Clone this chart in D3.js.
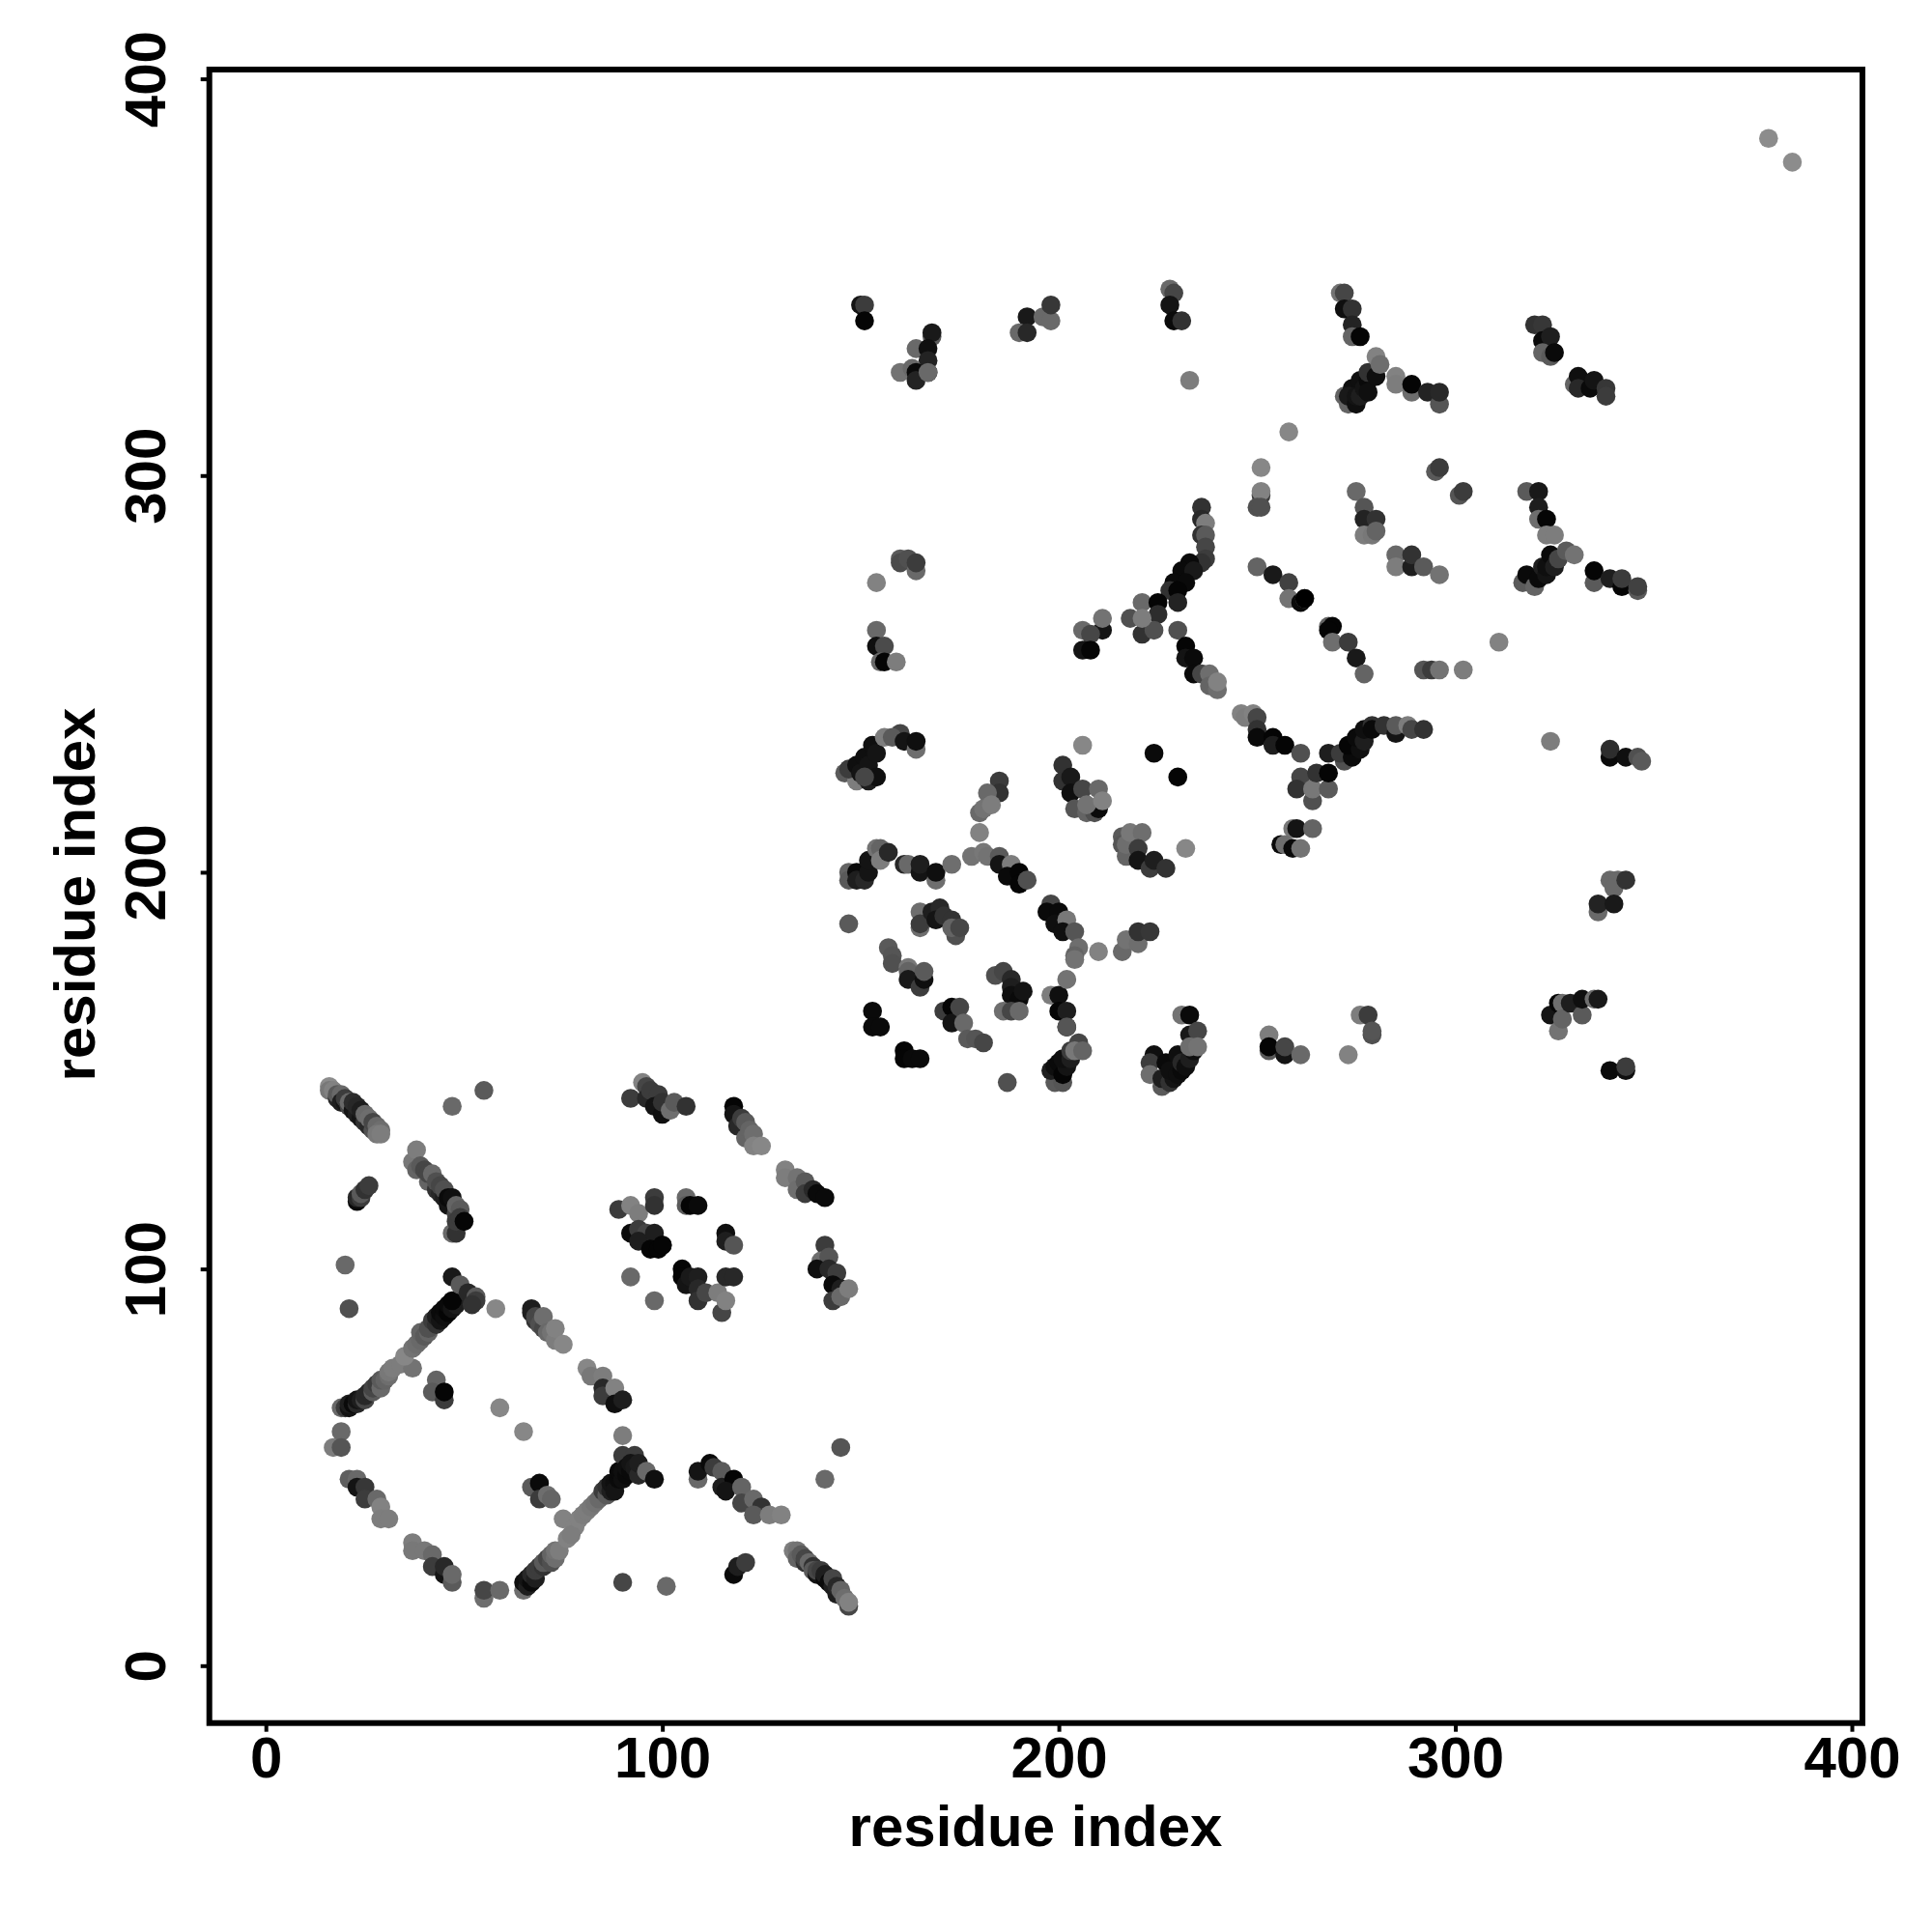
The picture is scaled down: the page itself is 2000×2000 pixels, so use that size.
<!DOCTYPE html>
<html><head><meta charset="utf-8"><style>html,body{margin:0;background:#fff}svg{display:block}</style>
<script src="https://cdn.jsdelivr.net/npm/d3@7/dist/d3.min.js"></script></head><body><div id="c"></div>
<script>
// Each entry: [residue i, residue j, shade level]
const xTicks=[0,100,200,300,400], yTicks=[0,100,200,300,400];
const axisTitle="residue index";
const blockUpperLeft=[
[16,146,140],[16,145,120],[17,145,130],[18,143,40],[18,144,90],[19,144,105],[19,142,30],[20,142,20],[20,143,60],[21,141,70],[21,142,105],[22,140,20],[22,142,45],[23,139,30],[23,141,40],[24,138,20],[24,140,30],[25,137,50],[25,139,105],[26,136,40],[26,138,110],[27,135,80],[27,137,70],[28,136,105],[29,135,110],[28,134,120],[29,134,125],
[37,127,120],[38,130,125],[38,125,100],[39,126,90],[40,125,70],[41,122,100],[41,124,70],[42,124,105],[43,120,50],[43,122,80],[44,119,40],[44,121,70],[45,118,30],[45,120,80],[46,116,20],[46,118,10],[47,118,15],[48,114,70],[48,116,100],[49,115,90],[47,109,105],[48,109,50],[48,112,60],[49,113,60],[50,112,5],
[23,117,10],[23,118,40],[24,118,60],[24,119,90],[25,120,50],[26,121,60],
[47,141,105],[55,145,90],[20,101,105],[21,90,80]];
const blockLowerLeft=[
[19,65,105],[20,65,60],[21,65,20],[21,66,30],[22,66,10],[23,66,40],[23,67,20],[24,67,30],[25,67,70],[25,68,40],[26,69,40],[27,69,90],[27,70,70],[28,71,60],[29,70,105],[29,72,90],[30,72,100],[31,73,110],[31,74,120],[32,75,125],[34,76,125],[37,75,115],[35,78,135],[37,80,115],[38,81,110],[39,82,105],[39,84,100],[40,83,90],[41,84,100],[41,85,80],[42,87,60],[43,86,50],[43,88,30],[44,87,20],[44,89,10],[45,88,15],[45,90,10],[46,89,5],[46,91,10],[47,90,20],[48,91,30],[47,92,5],[47,98,25],[49,96,90],[51,94,40],[53,93,90],[53,92,60],[52,91,50],
[58,90,135],
[67,89,30],[67,90,30],[68,87,50],[68,88,70],[69,86,80],[70,85,70],[70,88,110],[71,84,105],[72,84,115],[73,82,125],[73,85,130],[75,81,135],
[81,75,135],[82,73,120],[85,73,125],[85,70,40],[85,68,60],[88,70,130],[88,66,15],[90,67,30],
[43,72,100],[42,69,90],[45,67,60],[45,69,5],
[59,65,135],[65,59,135],[90,58,125],
[17,55,125],[19,59,105],[19,55,85],
[21,47,95],[23,47,105],[23,45,20],[25,45,55],[25,42,60],[28,42,105],[29,40,130],[29,37,125],[31,37,125],
[37,31,125],[37,29,120],[40,29,120],[42,28,105],[42,25,60],[45,23,20],[45,25,40],[47,21,90],[47,23,105],
[55,17,110],[55,19,70],[59,19,105]];
const blockLowerRight=[
[65,19,110],[65,21,15],[66,20,30],[66,22,20],[67,21,10],[67,23,40],[68,22,30],[68,24,60],[69,25,60],[70,25,50],[70,26,90],[71,27,70],[72,26,80],[72,28,100],[73,27,110],[73,29,115],[74,29,125],[76,32,130],[75,37,130],[78,35,130],[77,33,125],[79,37,130],[80,38,125],[81,39,125],[82,40,120],[83,41,115],[84,42,105],[85,44,60],[86,43,90],[86,45,50],[87,44,30],[87,46,20],[88,46,15],[88,44,20],[89,47,10],[89,49,10],[90,53,60],[93,53,60],[90,47,15],[90,49,15],[91,48,10],[91,50,15],[92,49,10],[92,51,20],[93,50,25],[94,48,40],[94,51,30],[96,49,105],[98,47,15],
[67,45,90],[69,46,10],[69,42,60],[71,43,110],[72,42,100],
[109,47,105],[109,49,20],[112,51,10],[113,50,60],[115,49,90],[115,45,30],[118,47,5],[116,44,20],[120,45,100],[120,41,70],[123,42,105],[125,40,50],[123,38,90],[127,38,125],[130,38,130],
[118,23,10],[119,25,30],[121,26,60],[90,21,70],[101,20,105],[145,55,85],[141,47,105],
[133,29,125],[134,29,115],[134,27,100],[135,28,90],[136,26,50],[136,27,70],[137,26,105],[138,25,50],[138,24,90],[139,23,20],[139,24,70],[140,24,60],[141,22,10],[141,23,30],[142,21,10],[143,20,30],[143,22,70],[144,18,30],[144,20,40],[145,19,100],[146,17,110],[147,15,70],[147,16,130]];
const blockUpperRight=[
[92,143,60],[95,147,130],[96,146,70],[96,143,40],[97,145,60],[99,144,60],[98,141,20],[100,139,15],[100,142,50],[102,140,110],[103,142,90],[106,141,50],
[118,141,5],[118,139,20],[119,136,40],[120,138,60],[121,137,90],[121,133,100],[122,135,100],[123,134,110],[123,131,130],[125,131,135],
[131,125,130],[131,123,125],[134,123,115],[134,120,110],[136,122,90],[136,119,60],[138,120,40],[139,119,10],[141,118,10],
[89,115,60],[92,116,130],[94,114,125],[98,118,60],[98,116,50],
[92,109,10],[94,110,60],[96,109,70],[94,107,30],[98,109,30],[97,105,5],[100,106,5],[99,105,5],[100,106,5],
[106,118,105],[106,116,90],[107,116,5],[109,116,10],
[116,109,15],[116,107,30],[118,106,85],
[92,98,105],[98,92,105],
[105,100,5],[105,98,5],[106,96,20],[107,98,25],[109,98,30],[109,95,40],[109,92,50],[111,94,70],[114,94,125],[115,89,70],[116,92,130],[116,98,40],[118,98,40],
[141,106,60],[140,102,110],[142,103,85],[139,100,15],[142,100,40],[144,99,60],[143,96,10],[145,95,30],[143,92,60],[145,93,105],[147,95,125]];
const midLeftCluster=[
[146,225,90],[149,223,125],[147,226,60],[149,227,15],[150,225,20],[151,229,15],[153,232,15],[152,227,20],[154,230,20],[152,223,30],[154,224,15],[151,224,70],[156,234,125],[160,235,70],[158,234,90],[161,233,20],[164,231,110],[164,233,15],
[185,223,60],[185,220,50],[182,220,105],[180,215,105],[181,216,115],[183,217,125],[180,210,130],
[201,227,50],[201,223,50],[203,224,25],[203,220,15],[204,216,85],[206,221,70],[210,221,105],[207,215,100],[209,215,80],[210,216,10],[207,217,115],[211,218,130],[206,232,135],
[224,230,10],[230,224,5],[232,206,135],
[216,209,90],[216,207,85],[217,204,100],[217,207,110],[218,210,120],[221,210,110],[220,206,60],[220,203,20],[223,201,60],[224,203,30],[227,201,50],
[147,200,100],[147,198,90],[149,200,10],[149,198,30],[151,198,40],[152,200,20],[152,203,20],[154,206,115],[155,206,100],[155,203,125],[157,205,40],[161,202,40],[162,202,105],[165,200,20],[165,202,30],[169,198,110],[169,200,15],[173,202,110],
[178,204,115],[181,205,120],[182,204,115],[185,204,90],[185,202,20],[188,202,125],[187,199,10],[190,200,5],[190,197,5],[192,198,80],
[147,187,90],
[165,190,110],[165,186,110],[165,187,60],[168,190,30],[170,191,40],[169,188,20],[171,189,50],[173,188,50],[174,184,80],[173,186,100],[175,186,70],
[157,181,90],[158,179,85],[158,177,80],[162,176,120],[162,175,100],[162,173,25],[165,171,60],[166,173,15],[166,175,90],
[153,165,10],[153,161,10],[155,161,10],[161,155,5],[161,153,5],[163,153,10],[165,153,10],
[171,165,60],[173,166,5],[173,162,20],[175,166,70],[176,162,105],[177,158,90],[179,158,85],[181,157,70],
[184,174,80],[186,175,70],[188,173,40],[188,171,30],[188,169,15],[190,168,10],[191,170,20],[186,165,110],[188,165,70],[190,165,105],
[187,147,80],
[198,169,125],[200,169,15],[200,165,5],[202,165,30],[202,161,20],[202,161,85],[202,173,115],
[198,192,70],[197,190,10],[200,190,10],[199,187,15],[202,188,120],[201,185,15],[204,185,85],[205,181,110],[204,179,100],[204,178,115],[210,180,130],
[216,180,105],[217,183,115],[220,182,110],[220,185,50],[223,185,55],
[199,147,90],[201,147,85],[198,150,30],[201,150,20],[199,151,15],[200,152,10],[201,149,5],[202,151,20],[201,153,15],[203,153,30],[203,155,60],[205,157,70],[204,155,120],[206,155,100],
[231,164,115],[233,164,10],[224,154,15],[223,152,60],[223,149,110],[226,146,90],[227,152,10],[226,148,30],[228,147,50],[229,148,20],[229,151,10],[228,150,15],[230,149,15],[231,150,10],[230,154,15],[231,152,40],[232,151,15],[233,153,30],[233,159,25],[234,155,15],[235,160,70],[233,156,110],[235,156,115]];
const midRightCluster=[
[253,155,90],[253,159,125],[253,156,5],[257,154,20],[257,156,70],[261,154,105],
[276,164,125],[278,164,60],[279,159,80],[279,160,85],[273,154,130],
[324,164,20],[326,167,5],[326,160,115],[327,167,110],[327,163,100],[329,167,30],[332,164,90],[332,168,15],[335,168,110],[336,168,25],
[339,150,10],[343,150,15],[343,151,60],
[339,198,105],[341,198,105],[340,196,105],[343,198,50],[336,190,105],[336,192,35],[340,192,25],
[324,233,125],
[339,229,10],[339,231,45],[343,229,15],[346,229,80],[347,228,90],
[246,240,130],[247,239,125],[249,240,130],[250,239,70],[250,236,50],[250,234,10],[254,234,5],[254,232,30],[257,232,5],[261,230,80],
[268,230,30],[272,228,80],[271,230,60],[274,229,10],[273,232,5],[276,231,15],[275,234,10],[277,233,30],[277,236,15],[279,237,50],[279,236,10],[282,237,50],[285,235,20],[285,237,90],[288,237,125],[289,236,70],[292,236,50],
[261,224,70],[260,221,50],[264,218,80],[264,221,120],[265,225,50],[268,221,90],[268,225,5],
[259,211,120],[260,211,20],[264,211,100],[256,207,10],[257,207,110],[259,206,10],[261,206,115],
[379,385,140],[385,379,140]];
const topCluster=[
[150,343,20],[151,343,60],[151,339,5],
[168,335,90],[168,336,25],[164,332,105],[167,332,15],[167,329,35],[160,326,115],[163,327,105],[164,326,10],[164,324,35],[167,326,10],[167,326,105],
[192,340,25],[190,336,105],[192,336,40],[196,340,105],[198,339,105],[198,343,55],
[228,347,105],[229,346,70],[228,343,20],[229,339,10],[231,339,50],[233,324,125],
[258,311,135],[251,302,135],[251,295,60],[251,296,130],[250,292,80],[251,292,80],
[236,292,50],[236,289,40],[237,288,125],[236,285,50],[237,285,90],[237,282,70],[237,279,60],[236,278,50],[233,278,10],[231,276,10],[234,276,25],[229,273,10],[232,273,10],[228,271,50],[230,271,5],[230,268,35],
[221,268,105],[225,268,5],[225,265,45],[218,264,80],[221,260,50],[224,261,80],[221,264,125],
[230,261,80],[232,257,5],[232,254,20],[234,254,10],[234,250,10],[236,250,70],[238,250,110],[238,247,100],[240,246,110],[240,248,130],
[211,261,20],[211,264,115],[206,261,105],[208,260,70],[206,256,20],[208,256,5],
[160,279,90],[160,278,75],[162,279,80],[164,276,105],[164,278,60],[154,273,130],
[154,261,105],[154,257,15],[156,257,75],[155,253,105],[156,253,5],[159,253,125]];
const upperRightCluster=[
[271,346,115],[272,346,70],[272,342,15],[274,342,50],[274,338,35],[274,335,100],[276,335,5],
[272,320,100],[273,318,100],[274,322,15],[273,320,25],[275,318,15],[275,320,20],[276,320,30],[276,324,15],[277,322,20],[278,324,10],[278,321,15],[278,326,50],[280,325,15],[280,330,130],[281,328,110],
[285,325,130],[285,323,125],[289,321,110],[289,323,5],[293,321,35],[296,318,85],[296,321,40],
[320,338,50],[322,338,55],[322,334,10],[324,335,30],[322,331,100],[324,330,90],[325,331,10],
[330,323,100],[331,325,15],[331,322,40],[334,322,10],[335,324,20],[338,322,55],[338,320,60],
[295,301,90],[296,302,60],[301,295,85],[302,296,60],
[275,296,105],[277,292,85],[277,289,35],[280,289,50],[277,285,125],[279,285,120],[280,286,100],
[285,280,105],[285,277,125],[289,277,30],[289,280,50],[292,277,90],[296,275,115],
[250,277,100],[254,275,25],[258,273,65],[258,269,115],[261,268,10],[262,269,100],[262,269,0],
[268,262,100],[269,262,5],[268,261,5],[269,258,110],[273,258,60],[275,254,25],[277,250,100],
[292,251,85],[294,251,60],[296,251,115],[302,251,125],[311,258,130],
[318,296,90],[321,296,25],[321,292,30],[321,289,110],[323,289,5],[323,285,125],[325,285,125],
[317,273,90],[318,275,10],[320,272,100],[321,274,10],[322,277,30],[323,275,20],[323,277,15],[324,280,10],[325,277,30],[326,279,70],[328,281,90],[330,280,115],
[335,273,90],[335,276,5],[339,274,30],[342,272,5],[342,274,60],[346,271,90],[346,272,65]];

const clusters=[blockUpperLeft,blockLowerLeft,blockLowerRight,blockUpperRight,midLeftCluster,midRightCluster,topCluster,upperRightCluster];
const W=2000,H=2000,font='"Liberation Sans",Arial,sans-serif';
const x=d3.scaleLinear().domain([0,400]).range([275.2,1917]);
const y=d3.scaleLinear().domain([0,400]).range([1724.3,81.6]);
const shade=d3.scaleLinear().domain([0,255]).range(["#000000","#ffffff"]);
const svg=d3.select("#c").append("svg").attr("width",W).attr("height",H).style("font-family",font);
svg.append("rect").attr("width",W).attr("height",H).attr("fill","#fff");
svg.append("g").selectAll("circle").data(clusters.flat()).join("circle")
 .attr("cx",d=>x(d[0])).attr("cy",d=>y(d[1])).attr("r",9.8).attr("fill",d=>shade(d[2]));
svg.append("rect").attr("x",216.7).attr("y",72).attr("width",1711.3).attr("height",1711.7)
 .attr("fill","none").attr("stroke","#000").attr("stroke-width",6);
const gx=svg.append("g").attr("transform","translate(0,1783.7)").call(d3.axisBottom(x).tickValues(xTicks).tickSize(9).tickFormat(d3.format("d")));
gx.select(".domain").remove();
gx.selectAll("line").attr("stroke","#000").attr("stroke-width",4);
gx.selectAll("text").attr("y",56.5).attr("dy",0).attr("fill","#000").attr("font-size",60).attr("font-weight",700).attr("font-family",font);
const gy=svg.append("g").attr("transform","translate(216.7,0)").call(d3.axisLeft(y).tickValues(yTicks).tickSize(9).tickFormat(d3.format("d")));
gy.select(".domain").remove();
gy.selectAll("line").attr("stroke","#000").attr("stroke-width",4);
gy.selectAll("text").attr("x",0).attr("y",-45.7).attr("dy",0).attr("transform","rotate(-90)").attr("text-anchor","middle").attr("fill","#000").attr("font-size",60).attr("font-weight",700).attr("font-family",font);
svg.append("text").attr("x",1072).attr("y",1911).attr("text-anchor","middle").attr("font-size",60).attr("font-weight",700).text(axisTitle);
svg.append("text").attr("transform","translate(98,926) rotate(-90)").attr("text-anchor","middle").attr("font-size",60).attr("font-weight",700).text(axisTitle);
</script></body></html>
